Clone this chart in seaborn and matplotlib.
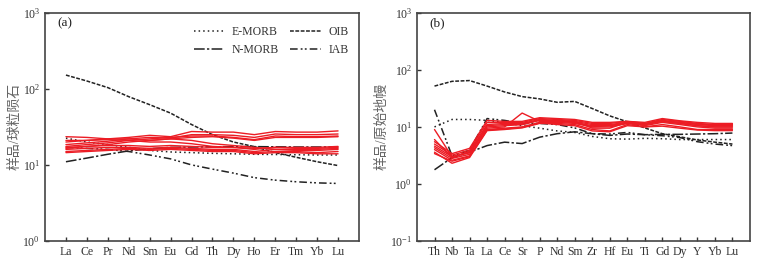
import numpy as np
import pandas as pd
import matplotlib
matplotlib.use("Agg")
import matplotlib.pyplot as plt
import seaborn as sns
from matplotlib.lines import Line2D

sns.set_style("ticks")
plt.rcParams["font.family"] = ["Liberation Serif", "Noto Sans CJK SC", "DejaVu Sans"]
plt.rcParams["mathtext.fontset"] = "stix"

# Chondrite-normalised REE (panel a)
ree = ["La", "Ce", "Pr", "Nd", "Sm", "Eu", "Gd", "Th", "Dy", "Ho", "Er", "Tm", "Yb", "Lu"]
ree_oib = [152, 127, 104, 79, 62, 48, 34, 25, 20, 17.4, 14.5, 12.6, 11, 9.8]
ree_emorb = [22.5, 20, 18.5, 17, 15.5, 14.8, 14.5, 14.2, 14, 13.8, 13.7, 13.6, 13.5, 13.5]
ree_nmorb = [11, 12.3, 13.8, 15.3, 16.3, 17, 17.2, 17.3, 17.4, 17.4, 17.3, 17.2, 17.2, 17.2]
ree_iab = [17, 16.5, 16, 15, 13.5, 12, 10, 8.8, 7.8, 6.8, 6.3, 6.0, 5.8, 5.7]
ree_samples = [
    [23.5, 23, 22, 22, 21, 22, 21, 19, 18, 17, 16, 16, 16, 16.5],
    [20, 21, 22, 23, 24.5, 23.5, 27.5, 27, 27, 25, 27.5, 27, 27, 28],
    [18.5, 19.5, 20.5, 22, 23, 22.5, 25, 25, 24.5, 23, 25.5, 25, 25, 25.5],
    [17.5, 18.5, 19.5, 21, 22, 23, 24, 24, 23, 21.5, 24, 23.5, 23.5, 24],
    [16.5, 17.5, 18.5, 20, 21, 22, 23, 23.5, 22.5, 21, 23, 23, 23, 23.5],
    [17, 17.5, 18, 18, 17.5, 18, 17.5, 17, 17, 16, 17, 16.5, 16.5, 17],
    [16, 16.5, 17, 17, 16.5, 17, 16.5, 16, 16, 15, 16, 15.5, 15.5, 16],
    [15, 15.5, 16, 16.5, 16, 16.5, 16, 15.5, 15.5, 14.5, 15, 15, 14.5, 15],
    [14.5, 15, 15.5, 16, 15.5, 16, 15.5, 15, 15, 14, 14.5, 14.5, 14, 14],
    [21, 21, 21.5, 21, 20, 20, 19, 17.5, 17, 16.5, 17, 17, 17, 17.5],
]

# Primitive-mantle-normalised spider diagram (panel b)
spd = ["Th", "Nb", "Ta", "La", "Ce", "Sr", "P", "Nd", "Sm", "Zr", "Hf", "Eu",
       "Ti", "Gd", "Dy", "Y", "Yb", "Lu"]
spd_oib = [52, 63, 65, 52, 41, 34, 31, 27, 28, 21, 15.6, 12.3, 9.6, 7.6, 6.7, 5.9, 5.4, 5.0]
spd_emorb = [10, 13.5, 13.5, 13, 12, 10.5, 9.5, 8.5, 8, 6.8, 6.2, 6.1, 6.3, 6.2, 6.0, 6.0, 6.0, 6.0]
spd_nmorb = [1.77, 2.9, 3.6, 4.7, 5.4, 5.1, 6.6, 7.6, 8.2, 7.6, 7.1, 7.5, 7.3, 7.4, 7.4, 7.5, 7.6, 7.8]
spd_iab = [20, 3.1, 3.9, 14, 13, 11.5, 11.5, 11, 9.6, 7.6, 7.5, 8, 7.3, 7, 6.5, 5.5, 5, 4.7]
spd_samples = [
    [9.0, 3.0, 3.5, 9.5, 10.0, 17.5, 12.5, 12.5, 12.0, 10.0, 10.5, 12.0, 11.0, 12.5, 11.5, 10.5, 10.0, 10.0],
    [5.5, 3.4, 4.2, 13.0, 12.5, 12.5, 14.5, 14.0, 13.5, 12.0, 12.0, 12.5, 12.0, 14.0, 12.8, 12.0, 11.5, 11.5],
    [5.0, 3.2, 3.9, 12.0, 12.0, 12.0, 14.0, 13.5, 13.0, 11.5, 11.5, 12.5, 11.5, 13.5, 12.5, 11.5, 11.0, 11.0],
    [4.6, 3.0, 3.6, 11.0, 11.5, 11.5, 13.5, 13.0, 12.5, 11.0, 11.0, 12.0, 11.5, 13.0, 12.0, 11.0, 10.5, 10.5],
    [4.3, 2.8, 3.3, 10.0, 10.5, 11.0, 13.0, 12.5, 12.0, 10.5, 10.5, 11.5, 11.0, 12.5, 11.5, 10.5, 10.0, 10.0],
    [4.0, 2.6, 3.1, 9.0, 9.5, 10.0, 12.0, 12.0, 11.5, 10.0, 10.0, 11.5, 10.5, 12.0, 11.0, 10.0, 9.5, 9.5],
    [3.6, 2.3, 2.9, 8.6, 9.0, 9.6, 11.5, 11.5, 11.0, 9.0, 8.5, 11.0, 10.0, 11.0, 10.0, 9.0, 9.0, 9.0],
    [3.4, 2.5, 3.0, 8.8, 9.2, 9.8, 11.8, 11.0, 10.5, 8.5, 8.2, 10.5, 10.0, 10.3, 9.5, 8.8, 8.6, 8.6],
    [6.0, 2.9, 3.7, 10.5, 11.0, 11.0, 13.2, 12.8, 12.5, 9.5, 9.5, 12.0, 11.0, 12.8, 12.0, 11.2, 10.8, 10.8],
]

ref_names = ["E-MORB", "OIB", "N-MORB", "IAB"]
ref_styles = {
    "E-MORB": (0, (1, 2)),
    "OIB": (0, (2.5, 1)),
    "N-MORB": (0, (7, 1.5, 1.5, 1.5)),
    "IAB": (0, (5, 2, 1.2, 1.5, 1.2, 2)),
}
red = "#ec1c24"
ink = "#222222"


def long_samples(elements, samples):
    rows = []
    for i, s in enumerate(samples):
        for j, v in enumerate(s):
            rows.append({"sample": i, "pos": j, "el": elements[j], "val": v})
    return pd.DataFrame(rows)


def draw_panel(ax, elements, refs, samples, ylim, ylabel, tag):
    ax.set_yscale("log")
    df = long_samples(elements, samples)
    sns.lineplot(data=df, x="pos", y="val", units="sample", estimator=None,
                 color=red, lw=1.0, legend=False, ax=ax, zorder=3)
    for name in ref_names:
        d = pd.DataFrame({"pos": np.arange(len(elements)), "val": refs[name]})
        sns.lineplot(data=d, x="pos", y="val", color=ink, lw=1.1,
                     linestyle=ref_styles[name], ax=ax, legend=False, zorder=2)
    ax.set_xlim(-1, len(elements))
    ax.set_ylim(*ylim)
    ax.set_xticks(np.arange(len(elements)))
    ax.set_xticklabels(elements)
    ax.set_xlabel("")
    ax.set_ylabel(ylabel, color="#666666", fontsize=10, labelpad=1)
    ax.tick_params(axis="both", direction="in", length=3, width=1,
                   labelsize=8.5, colors="#333333")
    ax.tick_params(axis="y", which="minor", length=0)
    ax.tick_params(axis="x", pad=4)
    for sp in ax.spines.values():
        sp.set_color("#444444")
        sp.set_linewidth(1.2)
        sp.set_visible(True)
    ax.text(0.038, 0.955, tag, transform=ax.transAxes, fontsize=9.5,
            va="center", ha="left", color="#222222")


fig = plt.figure(figsize=(7.63, 2.63), dpi=100)
ax1 = fig.add_axes([0.059, 0.084, 0.4115, 0.867])
ax2 = fig.add_axes([0.5465, 0.084, 0.4364, 0.867])

draw_panel(ax1, ree,
           {"E-MORB": ree_emorb, "OIB": ree_oib, "N-MORB": ree_nmorb, "IAB": ree_iab},
           ree_samples, (1, 1000), "样品/球粒陨石", "(a)")
draw_panel(ax2, spd,
           {"E-MORB": spd_emorb, "OIB": spd_oib, "N-MORB": spd_nmorb, "IAB": spd_iab},
           spd_samples, (0.1, 1000), "样品/原始地幔", "(b)")

handles = [Line2D([], [], color=ink, lw=1.1, linestyle=ref_styles[n]) for n in
           ["E-MORB", "N-MORB", "OIB", "IAB"]]
ax1.legend(handles, ["E-MORB", "N-MORB", "OIB", "IAB"], ncol=2, frameon=False,
           loc="upper right", bbox_to_anchor=(1.0, 0.99), fontsize=8.5,
           handlelength=2.6, handletextpad=0.6, columnspacing=1.0,
           labelspacing=0.5, labelcolor="#333333")

fig.savefig("out.png", dpi=100)
